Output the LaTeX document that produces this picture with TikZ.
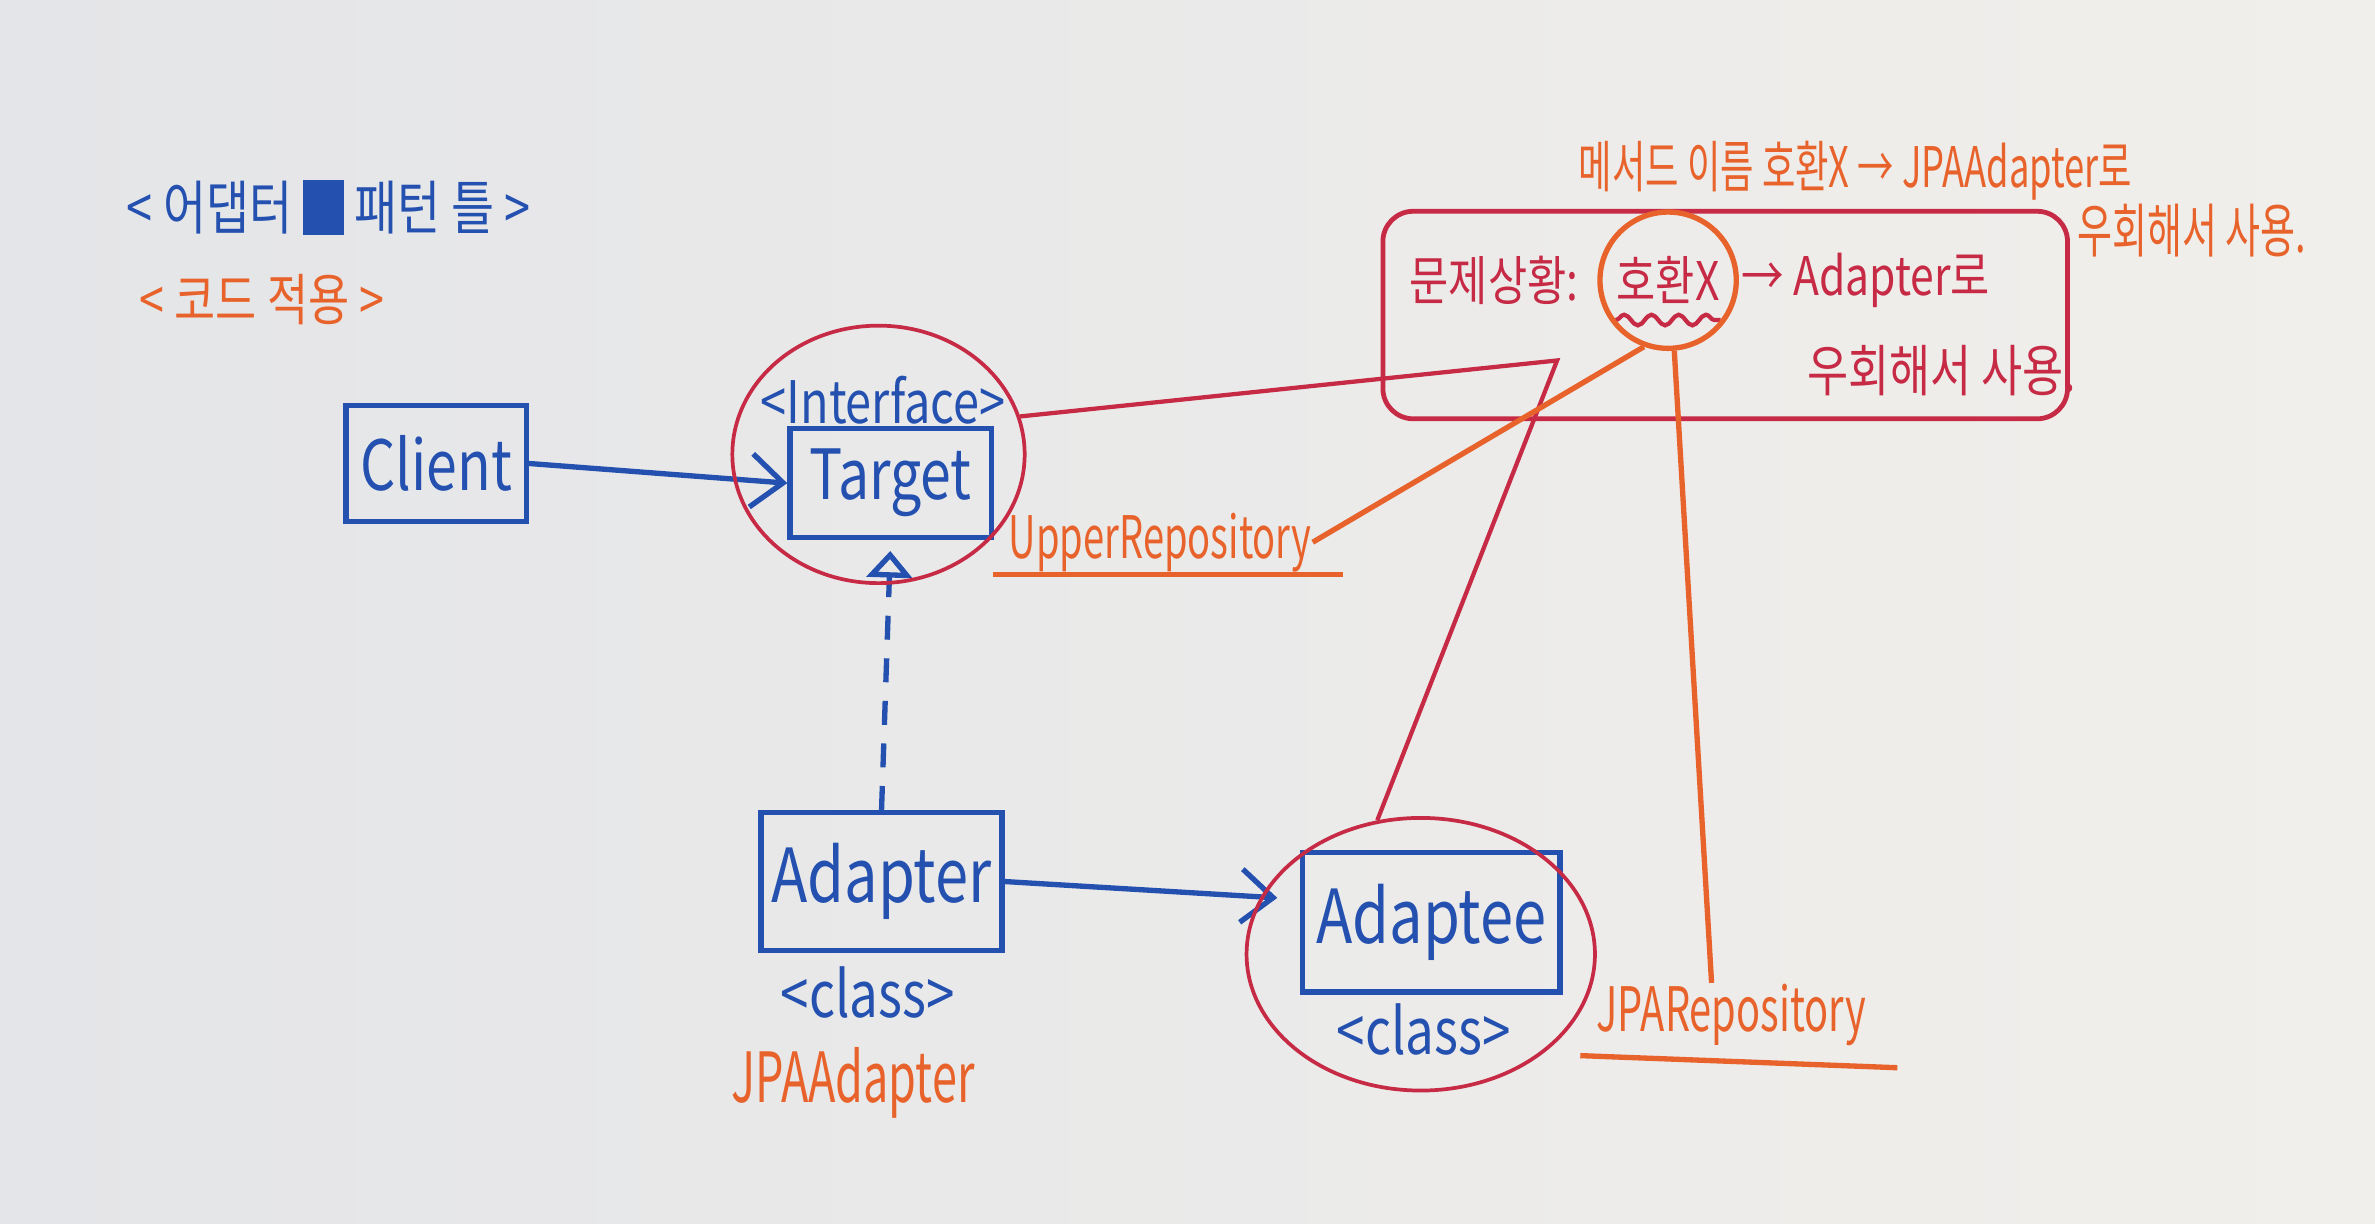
\documentclass[tikz,border=0pt]{standalone}
\usepackage{fontspec}
\usepackage{tikz}
\usetikzlibrary{arrows.meta,positioning,shapes.geometric,decorations.pathmorphing}
\newfontfamily\hand[FakeStretch=0.8]{Noto Sans CJK KR}
\newfontfamily\handc[FakeStretch=0.65]{Noto Sans CJK KR}
\definecolor{inkblue}{HTML}{2450B0}
\definecolor{inkred}{HTML}{C62A45}
\definecolor{inkorange}{HTML}{E8632B}
\tikzset{
  klass/.style = {rectangle, draw=inkblue, line width=1pt, text=inkblue, inner sep=0, font=\hand},
  blu/.style   = {text=inkblue, inner sep=0},
  org/.style   = {text=inkorange, inner sep=0},
  rd/.style    = {text=inkred, inner sep=0},
  ring/.style  = {ellipse, draw=inkred, line width=0.7pt, inner sep=0},
  call/.style  = {draw=inkblue, line width=1pt, -{Straight Barb[length=6pt,width=10pt]}},
  realize/.style = {draw=inkblue, line width=1pt, dash pattern=on 4.5pt off 3.5pt, -{Triangle[open,length=5pt,width=8.5pt]}},
  note/.style  = {draw=inkorange, line width=1pt},
  link/.style  = {draw=inkred, line width=0.8pt}
}

\begin{document}
\begin{tikzpicture}[x=0.1mm,y=-0.1mm]
  \shade[left color={rgb,255:red,228;green,229;blue,232}, right color={rgb,255:red,241;green,239;blue,235}] (0,0) rectangle (1568,808);
  \useasboundingbox (0,0) rectangle (1568,808);

  % titles
  \node[blu, font=\hand\fontsize{11}{13}\selectfont] (title) at (217,137) {< 어댑터 \rule[-0.1em]{0.7em}{0.95em} 패턴 틀 >};
  \node[org, font=\hand\fontsize{10.5}{12}\selectfont] (code) at (173,198) {< 코드 적용 >};

  % classes
  \node[klass, minimum width=11.9mm, minimum height=7.7mm, font=\hand\fontsize{13}{15}\selectfont] (client) at (288,306) {Client};
  \node[klass, minimum width=13.3mm, minimum height=7.2mm, font=\hand\fontsize{13}{15}\selectfont] (target) at (588,319) {Target};
  \node[blu, font=\hand\fontsize{11}{13}\selectfont] (iface) at (583,264) {<Interface>};
  \node[klass, minimum width=15.9mm, minimum height=9.1mm, font=\hand\fontsize{14}{16}\selectfont] (adapter) at (582,582) {Adapter};
  \node[blu, font=\hand\fontsize{12}{14}\selectfont] (adclass) at (573,655) {<class>};
  \node[org, font=\handc\fontsize{13}{15}\selectfont] (jpaadapter) at (563,715) {JPAAdapter};
  \node[klass, minimum width=17mm, minimum height=9.2mm, font=\hand\fontsize{14}{16}\selectfont] (adaptee) at (945,609) {Adaptee};
  \node[blu, font=\hand\fontsize{12}{14}\selectfont] (adeclass) at (940,680) {<class>};

  % relations
  \draw[call] (client.east) -- (target.west);
  \draw[call, shorten >=1.5mm] (adapter.east) -- (adaptee.170);
  \draw[realize, shorten >=0.7mm] (adapter.north) -- (target.south);

  % red marks
  \node[ring, minimum width=19.3mm, minimum height=17mm] (tgtring) at (580,300) {};
  \node[ring, minimum width=23mm, minimum height=18mm] (adpring) at (938,630) {};
  \node[draw=inkred, line width=0.9pt, rounded corners=2mm, minimum width=45.2mm, minimum height=13.7mm] (probbox) at (1139,208) {};
  \node[rd, font=\hand\fontsize{10}{12}\selectfont, anchor=west] (proba) at (930,185) {문제상황:};
  \node[rd, font=\hand\fontsize{10}{12}\selectfont, right=2.4mm of proba] (okword) {호환X};
  \node[rd, font=\hand\fontsize{10}{12}\selectfont, right=1.3mm of okword] (probb) {→ Adapter로};
  \node[rd, font=\hand\fontsize{10.5}{12}\selectfont] (probc) at (1282,245) {우회해서 사용.};
  \draw[link, decorate, decoration={snake, amplitude=0.35mm, segment length=1.8mm}] ([yshift=-1mm]okword.south west) -- ([yshift=-1mm]okword.south east);
  \coordinate (bend) at (1028,238);
  \draw[link] (tgtring.15) -- (bend) -- (adpring.108);

  % orange notes
  \node[org, font=\handc\fontsize{10.5}{12}\selectfont] (note1) at (1225,113) {메서드 이름 호환X → JPAAdapter로};
  \node[org, font=\handc\fontsize{11}{13}\selectfont] (note2) at (1447,152) {우회해서 사용.};
  \node[circle, draw=inkorange, line width=1pt, minimum size=9mm] (okring) at (okword) {};
  \node[org, font=\handc\fontsize{11}{13}\selectfont] (uprepo) at (766,358) {UpperRepository};
  \node[org, font=\handc\fontsize{11.5}{13}\selectfont] (jparepo) at (1143,670) {JPARepository};
  \draw[note] ([xshift=-1mm,yshift=-1.1mm]uprepo.base west) -- ([xshift=2mm,yshift=-1.1mm]uprepo.base east);
  \draw[note] ([xshift=-1mm,yshift=-1.6mm]jparepo.base west) -- ([xshift=2mm,yshift=-2.4mm]jparepo.base east);
  \draw[note] (okring.250) -- (uprepo.east);
  \draw[note] (okring.275) -- ([xshift=-1.3mm]jparepo.north);
\end{tikzpicture}
\end{document}
